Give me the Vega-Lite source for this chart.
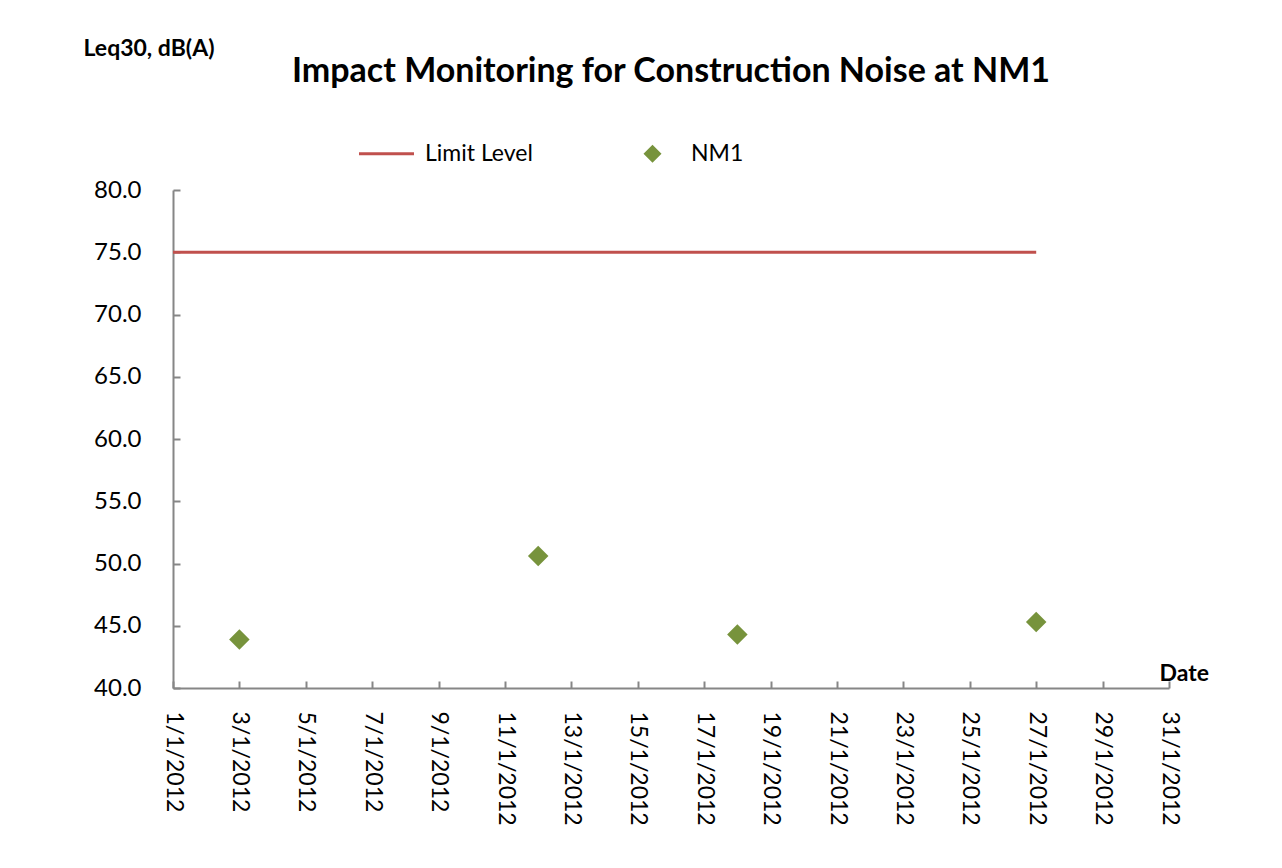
{
  "$schema": "https://vega.github.io/schema/vega-lite/v6.json",
  "autosize": {"type": "none"},
  "width": 996,
  "height": 498,
  "padding": {"left": 173, "top": 190, "right": 113, "bottom": 180},
  "background": "white",
  "title": {
    "text": "Impact Monitoring for Construction Noise at NM1",
    "font": "Lato",
    "fontSize": 34,
    "fontWeight": "bold",
    "color": "black",
    "anchor": "middle",
    "frame": "group",
    "offset": 10,
    "dy": 62
  },
  "data": {
    "values": [
      {"date": "2012-01-01", "series": "Limit Level", "value": 75},
      {"date": "2012-01-03", "series": "Limit Level", "value": 75},
      {"date": "2012-01-12", "series": "Limit Level", "value": 75},
      {"date": "2012-01-18", "series": "Limit Level", "value": 75},
      {"date": "2012-01-27", "series": "Limit Level", "value": 75},
      {"date": "2012-01-03", "series": "NM1", "value": 43.9},
      {"date": "2012-01-12", "series": "NM1", "value": 50.6},
      {"date": "2012-01-18", "series": "NM1", "value": 44.3},
      {"date": "2012-01-27", "series": "NM1", "value": 45.3}
    ]
  },
  "encoding": {
    "x": {
      "field": "date",
      "type": "temporal",
      "scale": {"type": "utc", "domain": ["2012-01-01", "2012-01-31"], "nice": false},
      "axis": {
        "title": "Date",
        "titleFont": "Lato",
        "titleFontSize": 23,
        "titleFontWeight": "bold",
        "titleColor": "black",
        "titleAngle": 0,
        "titleAlign": "left",
        "titleBaseline": "alphabetic",
        "titleX": 986,
        "titleY": -8,
        "values": ["2012-01-01", "2012-01-03", "2012-01-05", "2012-01-07", "2012-01-09", "2012-01-11", "2012-01-13", "2012-01-15", "2012-01-17", "2012-01-19", "2012-01-21", "2012-01-23", "2012-01-25", "2012-01-27", "2012-01-29", "2012-01-31"],
        "labelExpr": "utcFormat(datum.value, '%-d/%-m/%Y')",
        "labelAngle": 90,
        "labelAlign": "left",
        "labelBaseline": "middle",
        "labelFont": "Lato",
        "labelFontSize": 23,
        "labelColor": "black",
        "labelPadding": 30,
        "labelOverlap": false,
        "labelFlush": false,
        "labelBound": false,
        "tickSize": -7,
        "tickColor": "#868686",
        "tickWidth": 2,
        "domainColor": "#868686",
        "domainWidth": 2,
        "grid": false
      }
    },
    "y": {
      "field": "value",
      "type": "quantitative",
      "scale": {"domain": [40, 80], "nice": false, "zero": false},
      "axis": {
        "title": "Leq30, dB(A)",
        "titleFont": "Lato",
        "titleFontSize": 23,
        "titleFontWeight": "bold",
        "titleColor": "black",
        "titleAngle": 0,
        "titleAlign": "left",
        "titleBaseline": "alphabetic",
        "titleX": -90,
        "titleY": -135,
        "values": [40, 45, 50, 55, 60, 65, 70, 75, 80],
        "format": ".1f",
        "labelFont": "Lato",
        "labelFontSize": 24,
        "labelColor": "black",
        "labelPadding": 39,
        "tickSize": -7,
        "tickColor": "#868686",
        "tickWidth": 2,
        "domainColor": "#868686",
        "domainWidth": 2,
        "grid": false
      }
    },
    "color": {
      "field": "series",
      "type": "nominal",
      "scale": {"domain": ["Limit Level", "NM1"], "range": ["#C0504D", "#77933C"]},
      "legend": {
        "title": null,
        "orient": "none",
        "legendX": 202,
        "legendY": -48,
        "direction": "horizontal",
        "labelFont": "Lato",
        "labelFontSize": 23,
        "labelColor": "black",
        "labelOffset": 27,
        "columnPadding": 108,
        "symbolSize": 3025,
        "symbolType": "stroke",
        "encode": {
          "symbols": {
            "update": {
              "shape": {"signal": "datum.value === 'NM1' ? 'diamond' : 'stroke'"},
              "size": {"signal": "datum.value === 'NM1' ? 324 : 3025"},
              "strokeWidth": {"signal": "datum.value === 'NM1' ? 0 : 3"},
              "stroke": {"signal": "datum.value === 'NM1' ? '#77933C' : '#C0504D'"},
              "fill": {"signal": "datum.value === 'NM1' ? '#77933C' : 'transparent'"},
              "opacity": {"value": 1}
            }
          }
        }
      }
    }
  },
  "layer": [
    {
      "transform": [{"filter": "datum.series === 'Limit Level'"}],
      "mark": {"type": "line", "strokeWidth": 3}
    },
    {
      "transform": [{"filter": "datum.series === 'NM1'"}],
      "mark": {"type": "point", "shape": "diamond", "filled": true, "size": 420, "opacity": 1}
    }
  ],
  "config": {"view": {"stroke": null}}
}
